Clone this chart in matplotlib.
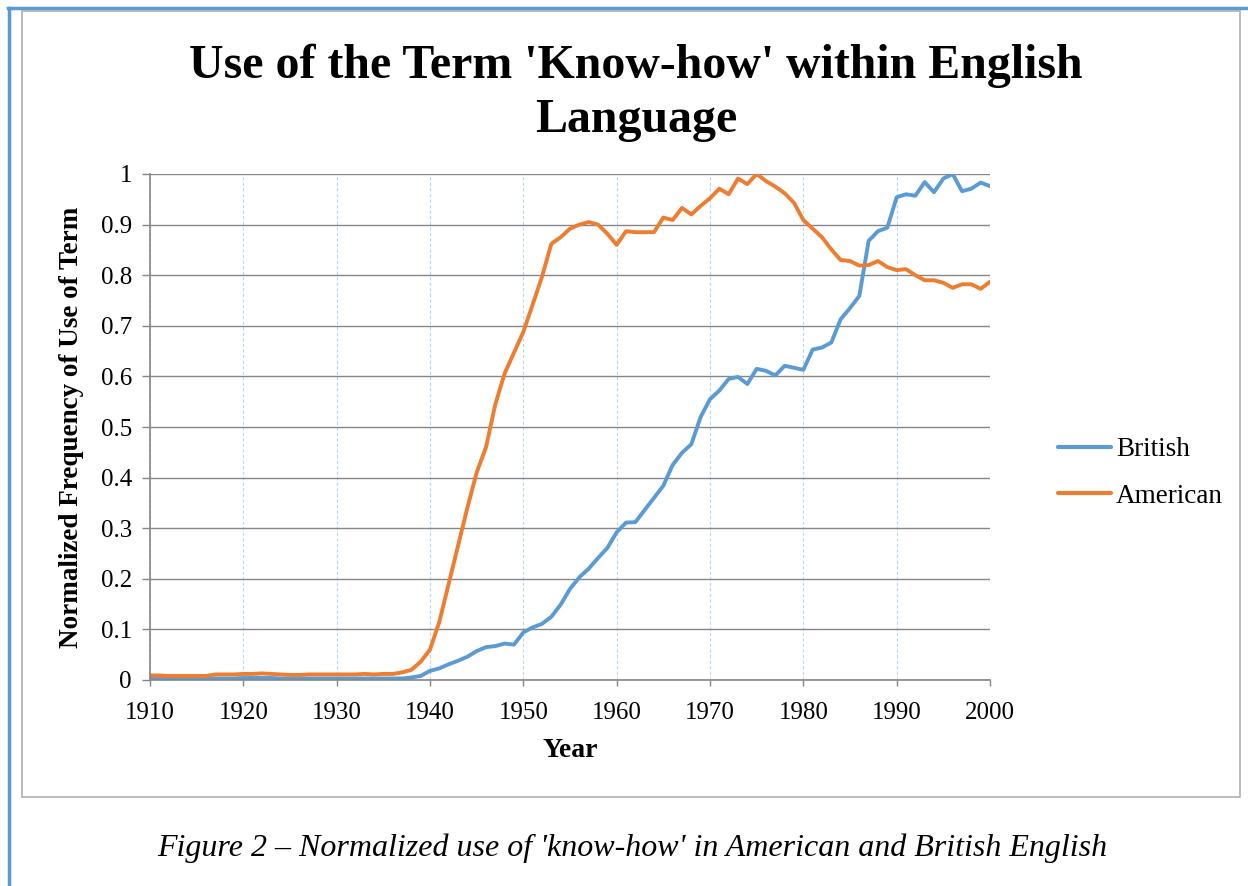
import numpy as np
import matplotlib.pyplot as plt
from matplotlib.patches import Rectangle
from matplotlib.lines import Line2D

# values, one per year 1910-2000
years = np.arange(1910, 2001)

british = [0.002, 0.002, 0.002, 0.002, 0.002, 0.002, 0.002, 0.003, 0.003, 0.003,
           0.004, 0.004, 0.004, 0.004, 0.003, 0.003, 0.003, 0.003, 0.003, 0.003,
           0.003, 0.003, 0.003, 0.003, 0.003, 0.003, 0.003, 0.003, 0.005, 0.008,
           0.018, 0.023, 0.031, 0.038, 0.046, 0.057, 0.065, 0.067, 0.072, 0.070,
           0.094, 0.104, 0.111, 0.125, 0.149, 0.180, 0.203, 0.220, 0.241, 0.261,
           0.292, 0.311, 0.312, 0.336, 0.360, 0.384, 0.425, 0.449, 0.466, 0.520,
           0.555, 0.572, 0.595, 0.599, 0.585, 0.615, 0.611, 0.602, 0.621, 0.617,
           0.613, 0.653, 0.657, 0.667, 0.713, 0.735, 0.759, 0.868, 0.887, 0.894,
           0.954, 0.960, 0.957, 0.984, 0.964, 0.991, 1.000, 0.966, 0.971, 0.983,
           0.976]

american = [0.009, 0.009, 0.008, 0.008, 0.008, 0.008, 0.008, 0.011, 0.011, 0.011,
            0.012, 0.012, 0.013, 0.012, 0.011, 0.010, 0.010, 0.011, 0.011, 0.011,
            0.011, 0.011, 0.011, 0.012, 0.011, 0.012, 0.012, 0.015, 0.020, 0.036,
            0.060, 0.115, 0.190, 0.265, 0.340, 0.410, 0.460, 0.545, 0.606, 0.647,
            0.688, 0.742, 0.797, 0.862, 0.875, 0.892, 0.900, 0.905, 0.900, 0.882,
            0.860, 0.887, 0.885, 0.885, 0.885, 0.914, 0.909, 0.933, 0.920, 0.937,
            0.952, 0.971, 0.960, 0.991, 0.980, 1.000, 0.986, 0.975, 0.962, 0.943,
            0.909, 0.892, 0.875, 0.851, 0.830, 0.828, 0.819, 0.820, 0.828, 0.816,
            0.810, 0.812, 0.800, 0.790, 0.790, 0.785, 0.775, 0.782, 0.782, 0.773,
            0.787]

series_names = ['British', 'American']
series_colors = ['#5B9BD5', '#ED7D31']

plt.rcParams['font.family'] = ['Liberation Serif', 'DejaVu Serif']

W, H = 1248, 886
fig = plt.figure(figsize=(W / 100, H / 100), dpi=100)

def fx(px):
    return px / W

def fy(py):
    return 1 - py / H

# page decoration: blue margin lines and the grey chart frame
fig.add_artist(Line2D([fx(8), fx(1248)], [fy(8), fy(8)], color='#5B9BD5', lw=2.5))
fig.add_artist(Line2D([fx(9), fx(9)], [fy(8), fy(886)], color='#5B9BD5', lw=2.5))
fig.add_artist(Rectangle((fx(22), fy(797)), fx(1240) - fx(22), fy(11) - fy(797),
                         fill=False, edgecolor='#B0B0B0', lw=1.2))

ax = fig.add_axes([fx(150), fy(680), fx(990) - fx(150), fy(174) - fy(680)])

for vals, name, col in zip([british, american], series_names, series_colors):
    ax.plot(years, vals, color=col, lw=2.8, label=name,
            solid_joinstyle='round', solid_capstyle='round')

ax.set_xlim(1910, 2000)
ax.set_ylim(0, 1)
ax.set_xticks(np.arange(1910, 2001, 10))
ax.set_yticks(np.arange(0, 1.01, 0.1))
ax.set_yticklabels(['0', '0.1', '0.2', '0.3', '0.4', '0.5', '0.6', '0.7', '0.8', '0.9', '1'])

ax.grid(axis='y', color='#868686', lw=1.0)
ax.grid(axis='x', color='#BDD7EE', lw=0.8, linestyle=(0, (3, 2)))
ax.set_axisbelow(True)

for side in ['top', 'right']:
    ax.spines[side].set_visible(False)
for side in ['left', 'bottom']:
    ax.spines[side].set_color('#868686')
    ax.spines[side].set_linewidth(1.2)

ax.tick_params(axis='both', colors='#868686', labelcolor='black', labelsize=18,
               direction='out', width=1)
ax.tick_params(axis='x', length=4, pad=12)
ax.tick_params(axis='y', length=6, pad=7)

ax.set_xlabel('Year', fontsize=20, fontweight='bold', labelpad=10)
ax.set_ylabel('Normalized Frequency of Use of Term', fontsize=19.5, fontweight='bold', labelpad=12)

fig.text(fx(636), fy(93), "Use of the Term 'Know-how' within English\nLanguage",
         ha='center', va='center', fontsize=34.5, fontweight='bold', linespacing=1.3)

leg = fig.legend(loc='center left', bbox_to_anchor=(fx(1058), fy(473)), frameon=False,
                 fontsize=19.5, handlelength=1.95, handletextpad=0.2, labelspacing=0.8,
                 borderpad=0, borderaxespad=0)
for h in leg.legend_handles:
    h.set_linewidth(3)

fig.text(fx(632), fy(848), "Figure 2 \u2013 Normalized use of 'know-how' in American and British English",
         ha='center', va='center', fontsize=23, style='italic')

fig.savefig('out.png', dpi=100)
